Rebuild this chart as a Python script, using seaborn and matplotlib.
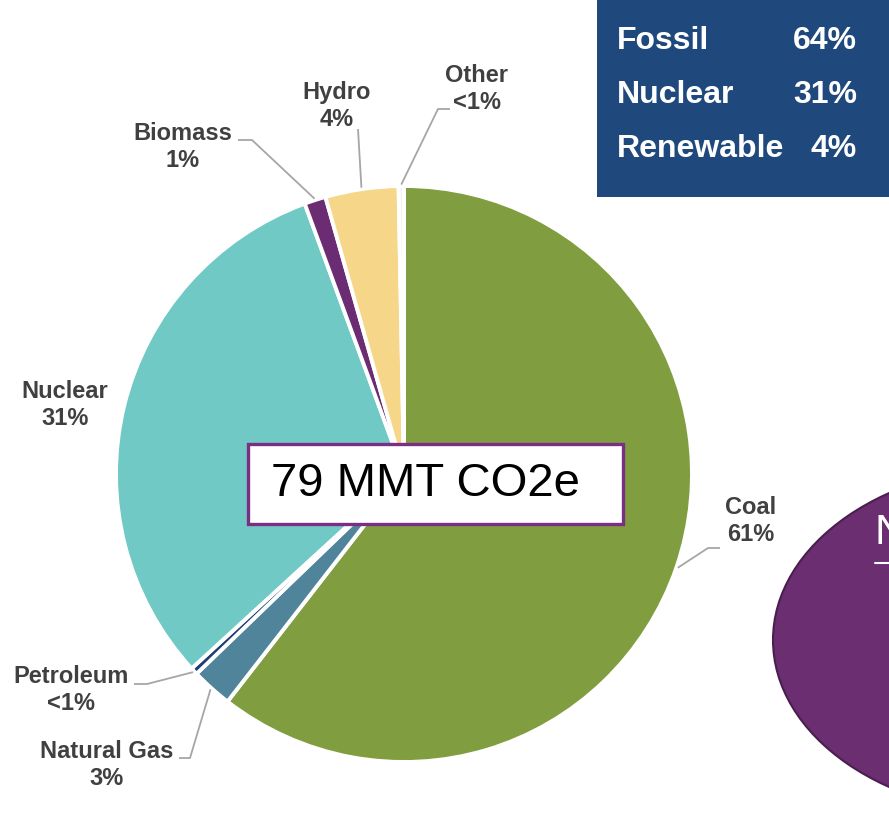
import numpy as np
import matplotlib
matplotlib.use("Agg")
import matplotlib.pyplot as plt
from matplotlib.patches import Rectangle, Ellipse
import seaborn as sns

# ========== 数据 ==========
sources = ["Coal", "Natural Gas", "Petroleum", "Nuclear", "Biomass", "Hydro", "Other"]
shares = [60.5, 2.3, 0.4, 31.2, 1.2, 4.1, 0.3]
share_labels = ["61%", "3%", "<1%", "31%", "1%", "4%", "<1%"]
slice_colors = ["#809e40", "#50849b", "#1f3f73", "#70c9c5", "#6b2c73", "#f6d78a", "#f2f2f2"]

summary_groups = ["Fossil", "Nuclear", "Renewable"]
summary_pcts = ["64%", "31%", "4%"]
total_text = "79 MMT CO2e"

# ========== 样式 ==========
sns.set_theme(style="white")
plt.rcParams['font.family'] = ['Liberation Sans', 'DejaVu Sans']
palette = sns.color_palette(slice_colors)

fig = plt.figure(figsize=(8.89, 8.14), dpi=100)
ax = fig.add_axes([0, 0, 1, 1])

cx, cy, R = 404, 474, 288
wedges, _ = ax.pie(shares, colors=palette, startangle=-90, counterclock=True,
                   center=(cx, cy), radius=R,
                   wedgeprops=dict(edgecolor="white", linewidth=2.8))

ax.set_xlim(0, 889)
ax.set_ylim(814, 0)
ax.set_aspect("equal")
ax.axis("off")

# ========== 标签与引线 ==========
label_pos = {
    "Coal": (751, 521), "Natural Gas": (107, 765), "Petroleum": (71, 690),
    "Nuclear": (65, 405), "Biomass": (183, 147), "Hydro": (337, 106), "Other": (477, 89),
}
leader_pts = {
    "Coal": [(708, 548), (720, 548)],
    "Natural Gas": [(190, 758), (179, 758)],
    "Petroleum": [(147, 684), (134, 684)],
    "Biomass": [(252, 140), (238, 140)],
    "Hydro": [(358, 129)],
    "Other": [(438, 109), (450, 109)],
}
line_col = "#a6a6a6"
for w, name, pct in zip(wedges, sources, share_labels):
    tx, ty = label_pos[name]
    ax.text(tx, ty, f"{name}\n{pct}", ha="center", va="center", fontsize=17,
            fontweight="bold", color="#404040", linespacing=1.25, multialignment="center")
    if name in leader_pts:
        mid = np.deg2rad((w.theta1 + w.theta2) / 2)
        ax0 = cx + R * 1.005 * np.cos(mid)
        ay0 = cy + R * 1.005 * np.sin(mid)
        pts = [(ax0, ay0)] + leader_pts[name]
        xs, ys = zip(*pts)
        ax.plot(xs, ys, color=line_col, lw=1.3, solid_capstyle="butt", zorder=3)

# ========== 中心方框 ==========
ax.add_patch(Rectangle((248, 444), 375, 80, facecolor="white", edgecolor="#7b2f84",
                       lw=2.4, zorder=5))
ax.text(271, 484, total_text, ha="left", va="center", fontsize=34, color="black", zorder=6)

# ========== 右上汇总框 ==========
ax.add_patch(Rectangle((597, 0), 300, 197, facecolor="#1f497d", edgecolor="none", zorder=4))
for i, (g, p) in enumerate(zip(summary_groups, summary_pcts)):
    y = 41 + i * 54
    ax.text(617, y, g, ha="left", va="center", fontsize=23, fontweight="bold",
            color="white", zorder=6)
    ax.text(857, y, p, ha="right", va="center", fontsize=23, fontweight="bold",
            color="white", zorder=6)

# ========== 右下紫色椭圆 ==========
ax.add_patch(Ellipse((1027, 640), 508, 350, facecolor="#6b2e70", edgecolor="#4a1f4f",
                     lw=1.5, zorder=4, clip_on=False))
ax.text(875, 533, "N", ha="left", va="center", fontsize=31, color="white", zorder=6)
ax.plot([875, 889], [563, 563], color="white", lw=1.5, zorder=6)

plt.savefig("out.png", dpi=100)
